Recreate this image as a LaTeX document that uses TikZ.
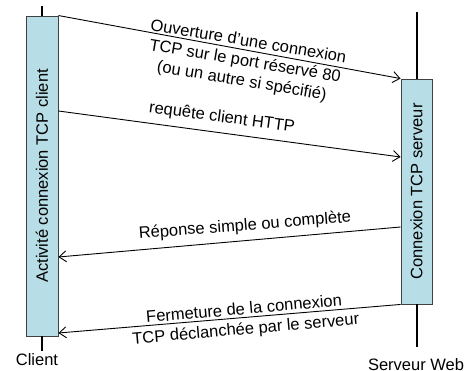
\documentclass[tikz,border=0pt]{standalone}
\usepackage{fontspec}
\setmainfont{Liberation Sans}
\usetikzlibrary{arrows.meta}
\definecolor{barfill}{RGB}{183,222,230}
\definecolor{barline}{RGB}{64,64,64}
\tikzset{
  actbar/.style ={draw=barline, fill=barfill, line width=0.9pt,
                  inner sep=0pt, minimum width=32pt},
  life/.style   ={line width=2pt, black},
  msg/.style    ={-{Straight Barb[length=7pt, width=11pt]},
                  line width=0.9pt, black},
  msglbl/.style ={font=\fontsize{16.5}{20}\selectfont, align=center,
                  inner sep=0pt},
  who/.style    ={font=\fontsize{16.5}{19}\selectfont, inner sep=0pt},
  barlbl/.style ={font=\fontsize{16.5}{19}\selectfont, rotate=90,
                  inner sep=0pt},
}

\begin{document}
\begin{tikzpicture}[x=1pt, y=-1pt]
  \useasboundingbox (0,0) rectangle (466,371);
  % activity bars
  \node[actbar, minimum height=320pt] (clibar) at (42,176) {};
  \node[actbar, minimum width=31pt, minimum height=225pt] (srvbar)
    at (416.5,191.5) {};
  \node[barlbl] (clitxt) at (clibar.center) {Activité connexion TCP client};
  \node[barlbl] (srvtxt) at (srvbar.center) {Connexion TCP serveur};
  % lifelines
  \coordinate (clitop) at (42,6);
  \coordinate (clibot) at (42,351);
  \coordinate (srvtop) at (416.5,12);
  \coordinate (srvbot) at (416.5,347);
  \draw[life] (clitop) -- (clibar.north);
  \draw[life] (clibar.south) -- (clibot);
  \draw[life] (srvtop) -- (srvbar.north);
  \draw[life] (srvbar.south) -- (srvbot);
  \node[who] (cli) at (37,360) {Client};
  \node[who] (srv) at (416,365) {Serveur Web};
  % messages
  \draw[msg] (clibar.north east) -- (srvbar.north west);
  \node[msglbl, rotate=-9.5] (open) at (245,62)
    {Ouverture d’une connexion\\TCP sur le port réservé 80\\(ou un autre si spécifié)};
  \draw[msg] (clibar.east |- 0,111) -- (srvbar.west |- 0,157);
  \node[msglbl, rotate=-7.5] (req) at (222,118) {requête client HTTP};
  \draw[msg] (srvbar.west |- 0,227) -- (clibar.east |- 0,257);
  \node[msglbl, rotate=4.5] (resp) at (245,226) {Réponse simple ou complète};
  \draw[msg] (srvbar.south west) -- (clibar.east |- 0,333);
  \node[msglbl, rotate=5] (close) at (245,320)
    {Fermeture de la connexion\\TCP déclanchée par le serveur};
\end{tikzpicture}
\end{document}
